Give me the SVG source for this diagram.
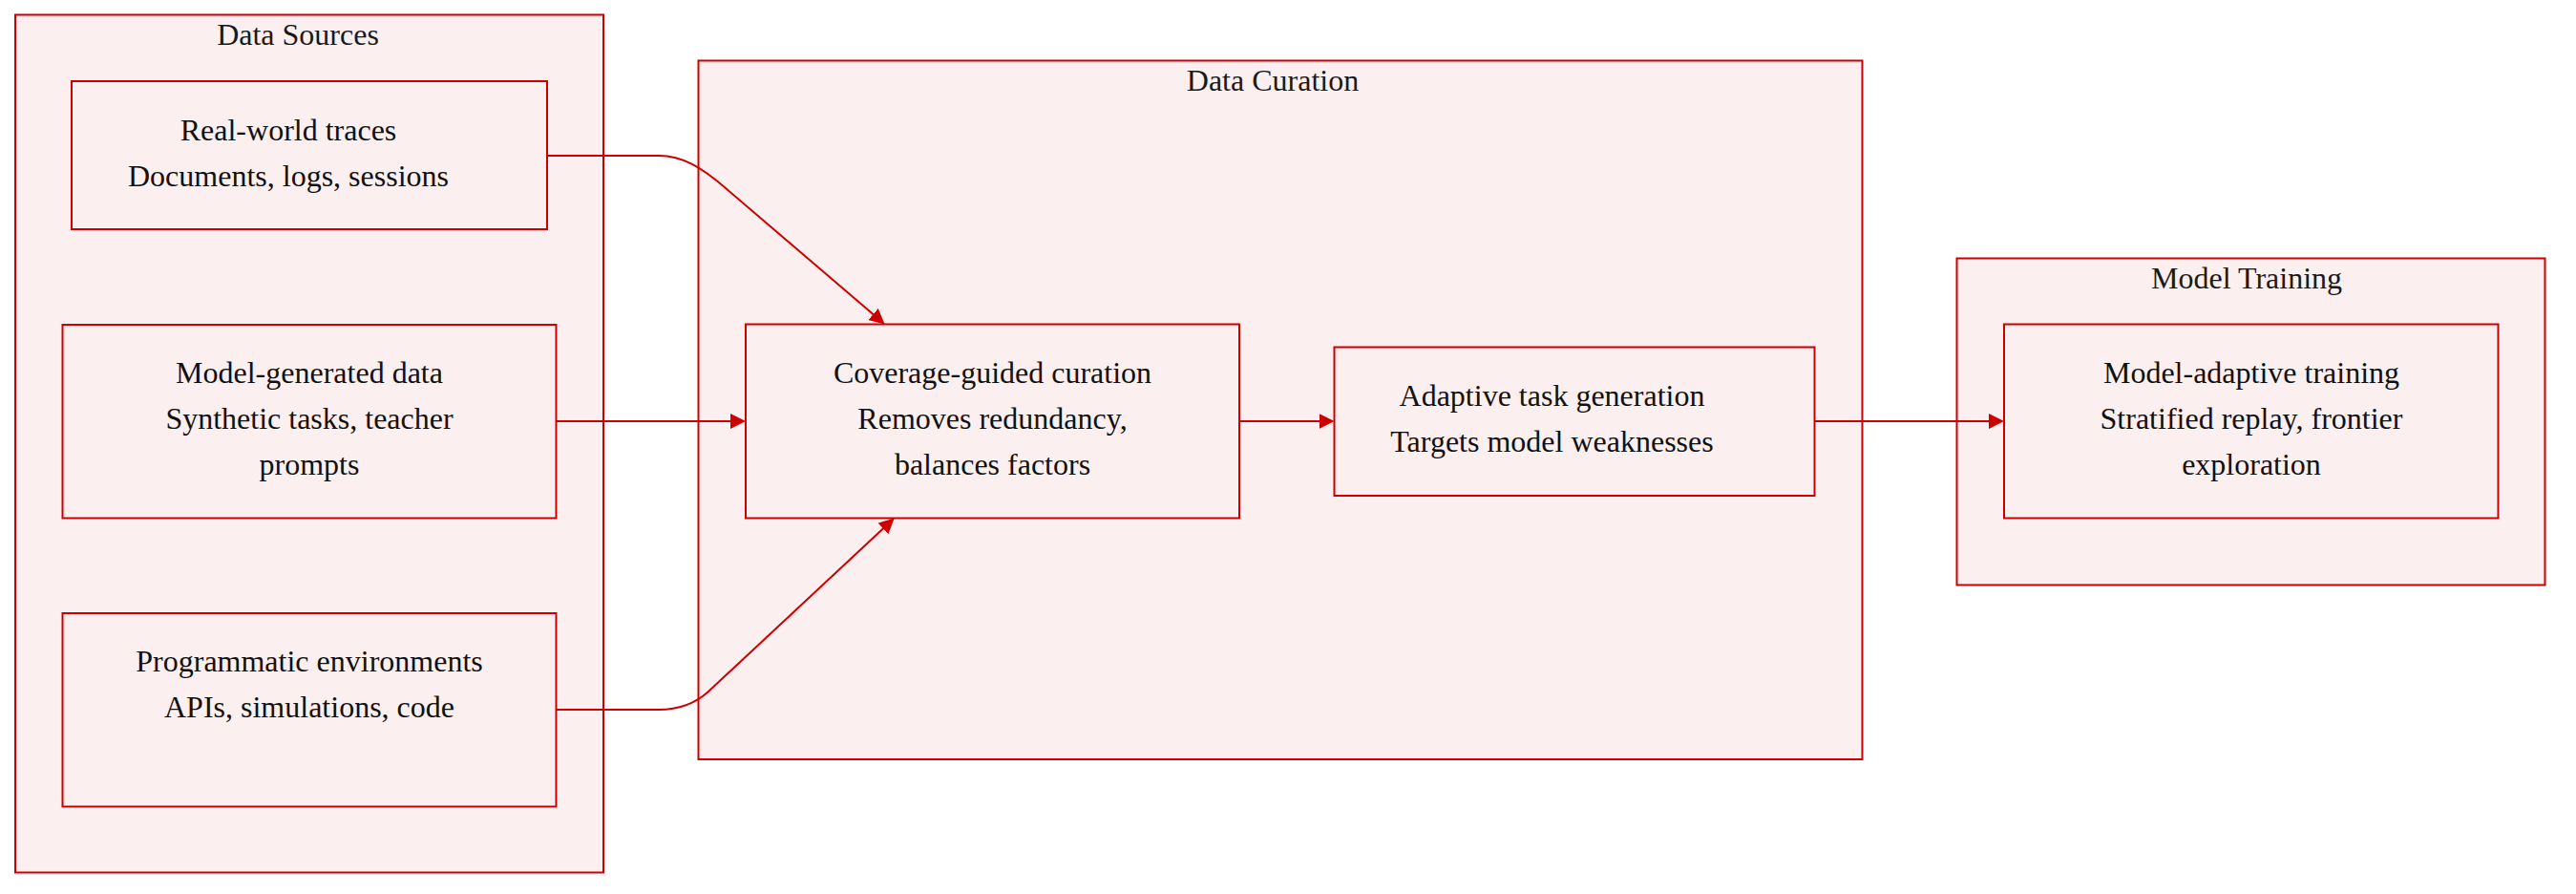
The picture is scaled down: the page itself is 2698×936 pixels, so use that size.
<svg xmlns="http://www.w3.org/2000/svg" width="2698" height="936" viewBox="0 0 2698 936">
<style>
.cluster{fill:#fcefef;stroke:#cc0000;stroke-width:2}
.node{fill:#fcefef;stroke:#cc0000;stroke-width:2}
.title{font-family:"Liberation Serif",serif;font-size:32px;fill:#1a1a1a;text-anchor:middle}
.label{font-family:"Liberation Serif",serif;font-size:32px;fill:#111;text-anchor:middle}
.edge{fill:none;stroke:#cc0000;stroke-width:2}
</style>
<defs>
<marker id="arrow" markerUnits="userSpaceOnUse" markerWidth="16" markerHeight="16" refX="13" refY="8" orient="auto" viewBox="0 0 16 16">
<path d="M0,0 L16,8 L0,16 z" fill="#cc0000"/>
</marker>
</defs>
<rect width="2698" height="936" fill="#ffffff"/>
<g id="cluster-data-sources">
<rect class="cluster" x="16" y="15.5" width="616" height="898"/>
<text class="title" x="312" y="47">Data Sources</text>
</g>
<g id="cluster-data-curation">
<rect class="cluster" x="731.5" y="63.5" width="1219" height="731.5"/>
<text class="title" x="1333" y="95">Data Curation</text>
</g>
<g id="cluster-model-training">
<rect class="cluster" x="2049.5" y="270.5" width="616" height="342"/>
<text class="title" x="2353" y="302">Model Training</text>
</g>
<g id="node-real-world">
<rect class="node" x="75" y="85" width="498" height="155"/>
<text class="label" x="302" y="146.5">Real-world traces</text>
<text class="label" x="302" y="194.5">Documents, logs, sessions</text>
</g>
<g id="node-model-generated">
<rect class="node" x="65.5" y="340" width="517" height="202.5"/>
<text class="label" x="324" y="401">Model-generated data</text>
<text class="label" x="324" y="449">Synthetic tasks, teacher</text>
<text class="label" x="324" y="497">prompts</text>
</g>
<g id="node-programmatic">
<rect class="node" x="65.5" y="642" width="517" height="202.5"/>
<text class="label" x="324" y="703">Programmatic environments</text>
<text class="label" x="324" y="751">APIs, simulations, code</text>
</g>
<g id="node-coverage">
<rect class="node" x="781" y="339.5" width="517" height="203"/>
<text class="label" x="1039.5" y="401">Coverage-guided curation</text>
<text class="label" x="1039.5" y="449">Removes redundancy,</text>
<text class="label" x="1039.5" y="497">balances factors</text>
</g>
<g id="node-adaptive">
<rect class="node" x="1397.5" y="363.5" width="503" height="155.5"/>
<text class="label" x="1625.5" y="424.5">Adaptive task generation</text>
<text class="label" x="1625.5" y="472.5">Targets model weaknesses</text>
</g>
<g id="node-model-adaptive">
<rect class="node" x="2099" y="339.5" width="517.5" height="203"/>
<text class="label" x="2358" y="401">Model-adaptive training</text>
<text class="label" x="2358" y="449">Stratified replay, frontier</text>
<text class="label" x="2358" y="497">exploration</text>
</g>
<g id="connectors">
<path class="edge" marker-end="url(#arrow)" d="M573,163 L690,163 C715,163 735,175.5 760,197 L924.4,337.5"/>
<path class="edge" marker-end="url(#arrow)" d="M582.5,441 L778,441"/>
<path class="edge" marker-end="url(#arrow)" d="M582.5,743 L690,743 C714,743 730,735 742,724 L934.5,544.5"/>
<path class="edge" marker-end="url(#arrow)" d="M1298,441 L1394.5,441"/>
<path class="edge" marker-end="url(#arrow)" d="M1900.5,441 L2096,441"/>
</g>
</svg>
